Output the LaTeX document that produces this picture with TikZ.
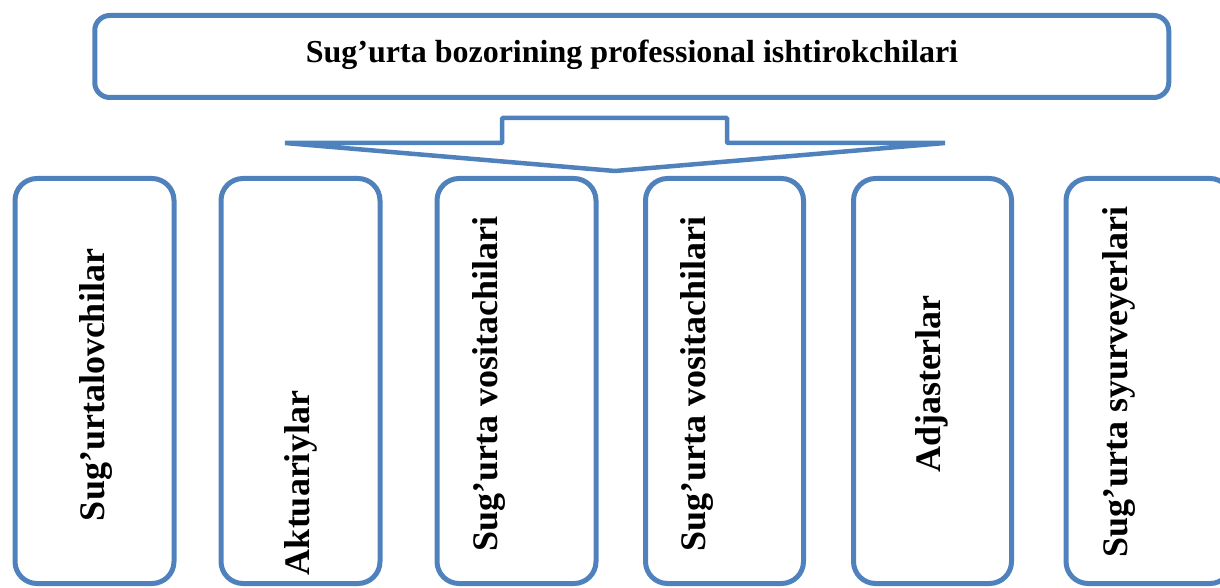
\documentclass[tikz,border=0pt]{standalone}
\usepackage{fontspec}
\setmainfont{Liberation Serif}
\definecolor{frameblue}{HTML}{4F81BD}
\begin{document}
\begin{tikzpicture}[x=1pt,y=-1pt,
  topbox/.style={draw=frameblue,line width=5pt,rounded corners=15pt,
    minimum width=1074pt,minimum height=82pt,inner sep=0pt},
  rolebox/.style={draw=frameblue,line width=5pt,rounded corners=22pt,
    minimum width=159pt,minimum height=405pt,inner sep=0pt},
  titletext/.style={font=\bfseries\fontsize{32}{38}\selectfont,inner sep=0pt},
  roletext/.style={font=\bfseries\fontsize{36}{42}\selectfont,inner sep=0pt,rotate=90},
  pointer/.style={draw=frameblue,line width=4.5pt,line join=bevel}]
\useasboundingbox (0,0) rectangle (1220,588);

% heading box
\node[topbox] (head) at (631.75,56.5) {};
\node[titletext] (headtxt) at (632,55) {Sug’urta bozorining professional ishtirokchilari};

% downward pointer below the heading
\coordinate (wl) at (285,143);
\coordinate (wr) at (945,143);
\coordinate (tip) at (615,171);
\draw[pointer] (wl) -- (502,143) -- (502,118) -- (727,118) -- (727,143)
  -- (wr) -- (tip) -- cycle;

% participant boxes
\node[rolebox] (b1) at (94.5,381) {};
\node[rolebox] (b2) at (300.5,381) {};
\node[rolebox] (b3) at (516.5,381) {};
\node[rolebox,minimum width=158pt] (b4) at (724.5,381) {};
\node[rolebox,minimum width=158pt] (b5) at (932.5,381) {};
\node[rolebox,minimum width=166pt] (b6) at (1149,381) {};

% participant names
\node[roletext] (t1) at (96,385) {Sug’urtalovchilar};
\node[roletext] (t2) at (301,483) {Aktuariylar};
\node[roletext] (t3) at (489,384) {Sug’urta vositachilari};
\node[roletext] (t4) at (697,384) {Sug’urta vositachilari};
\node[roletext] (t5) at (932,384) {Adjasterlar};
\node[roletext] (t6) at (1119,382) {Sug’urta syurveyerlari};
\end{tikzpicture}
\end{document}
